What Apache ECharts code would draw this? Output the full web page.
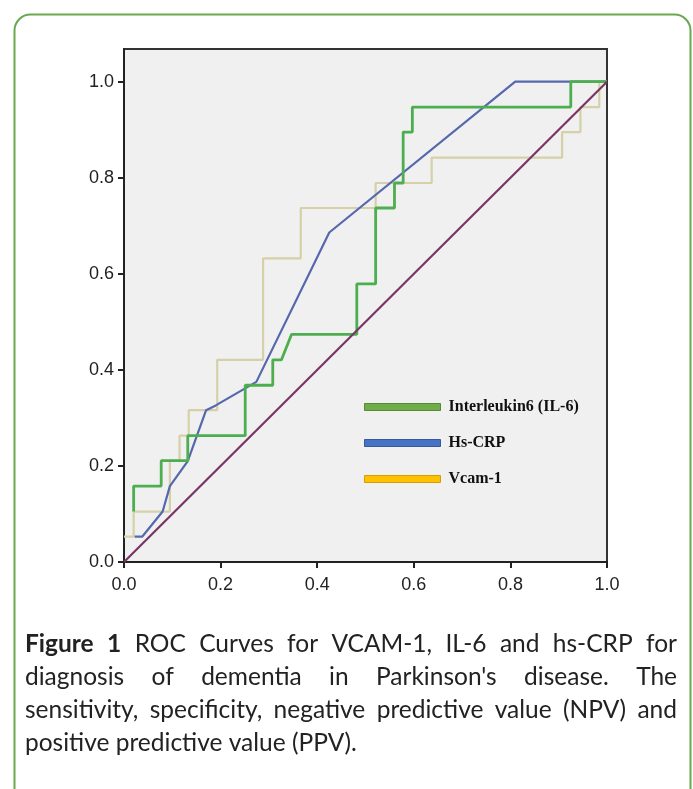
<!DOCTYPE html>
<html>
<head>
<meta charset="utf-8">
<script src="https://cdn.jsdelivr.net/npm/echarts@6/dist/echarts.min.js"></script>
<style>
html,body{margin:0;padding:0;background:#fff;}
#chart{width:693px;height:789px;}
</style>
</head>
<body>
<div id="chart"></div>
<script>
// ---- data ----
const xTicks = [0, 0.2, 0.4, 0.6, 0.8, 1.0];
const yTicks = [0, 0.2, 0.4, 0.6, 0.8, 1.0];

const seriesNames = ['Interleukin6 (IL-6)', 'Hs-CRP', 'Vcam-1'];

// Interleukin6 (IL-6): 1 - specificity / sensitivity
const il6Fpr = [0.02,0.02,0.077,0.077,0.132,0.132,0.251,0.251,0.308,0.308,0.326,0.347,0.482,0.482,0.521,0.521,0.56,0.56,0.578,0.578,0.597,0.597,0.925,0.925,1.0];
const il6Tpr = [0.105,0.158,0.158,0.211,0.211,0.263,0.263,0.368,0.368,0.421,0.421,0.474,0.474,0.579,0.579,0.737,0.737,0.789,0.789,0.895,0.895,0.947,0.947,1.0,1.0];

// Hs-CRP
const crpFpr = [0.022,0.038,0.08,0.095,0.132,0.17,0.19,0.274,0.425,0.81,1.0];
const crpTpr = [0.053,0.053,0.105,0.158,0.21,0.316,0.326,0.375,0.686,1.0,1.0];

// Vcam-1
const vcamFpr = [0,0.02,0.02,0.095,0.095,0.115,0.115,0.134,0.134,0.193,0.193,0.288,0.288,0.366,0.366,0.521,0.521,0.637,0.637,0.907,0.907,0.945,0.945,0.984,0.984,1.0];
const vcamTpr = [0.053,0.053,0.105,0.105,0.211,0.211,0.263,0.263,0.316,0.316,0.421,0.421,0.632,0.632,0.737,0.737,0.789,0.789,0.842,0.842,0.895,0.895,0.947,0.947,1.0,1.0];

// reference diagonal
const refFpr = [0, 1];
const refTpr = [0, 1];

const captionLines = [
  [{t:'Figure', b:true},{t:'1', b:true},{t:'ROC'},{t:'Curves'},{t:'for'},{t:'VCAM-1,'},{t:'IL-6'},{t:'and'},{t:'hs-CRP'},{t:'for'}],
  'diagnosis of dementia in Parkinson\'s disease. The',
  'sensitivity, specificity, negative predictive value (NPV) and',
  'positive predictive value (PPV).'
];

// ---- build ----
const zip = (xs, ys) => xs.map((x, i) => [x, ys[i]]);

const chart = echarts.init(document.getElementById('chart'), null, {renderer: 'canvas'});

// caption layout (justified text)
const capFamily = 'Lato';
const ctx = document.createElement('canvas').getContext('2d');
function w(text, size, bold) {
  ctx.font = (bold ? 'bold ' : '') + size + 'px ' + capFamily;
  return ctx.measureText(text).width;
}
const lastLine = captionLines[3];
const capSize = Math.round(20 * 332 / w(lastLine, 20, false) * 10) / 10;
const capLeft = 25, capRight = 677, capTop = 647, capStep = 33;
const capGraphics = [];
captionLines.forEach((line, li) => {
  const words = typeof line === 'string' ? line.split(' ').map(t => ({t})) : line;
  const y = capTop + li * capStep;
  const justify = li < captionLines.length - 1;
  const widths = words.map(o => w(o.t, capSize, o.b));
  const total = widths.reduce((a, b) => a + b, 0);
  const gap = justify ? (capRight - capLeft - total) / (words.length - 1) : w(' ', capSize, false);
  let x = capLeft;
  words.forEach((o, i) => {
    capGraphics.push({
      type: 'text', left: x, top: y - capSize * 0.62,
      style: {text: o.t, font: (o.b ? 'bold ' : '') + capSize + 'px ' + capFamily, fill: '#222'}
    });
    x += widths[i] + gap;
  });
});

const lineColors = ['#4cae4f', '#5668ad', '#d6d0a8'];
const legendColors = [['#70ad47', '#548a34'], ['#4472c4', '#35599c'], ['#ffc000', '#d49f00']];

const option = {
  animation: false,
  backgroundColor: '#ffffff',
  grid: {
    left: 124, right: 86, top: 49, bottom: 227,
    show: true, backgroundColor: '#f0f0f0', borderColor: '#333', borderWidth: 2
  },
  xAxis: {
    type: 'value', min: 0, max: 1, interval: 0.2,
    axisLine: {show: true, onZero: false, lineStyle: {color: '#222', width: 2}},
    axisTick: {show: true, length: 6, lineStyle: {color: '#222', width: 2}},
    axisLabel: {
      fontFamily: 'Liberation Sans', fontSize: 18, color: '#222', margin: 14,
      customValues: xTicks, formatter: v => v.toFixed(1)
    },
    splitLine: {show: false}
  },
  yAxis: {
    type: 'value', min: 0, max: 1.068,
    axisLine: {show: true, onZero: false, lineStyle: {color: '#222', width: 2}},
    axisTick: {show: true, length: 6, lineStyle: {color: '#222', width: 2}, customValues: yTicks},
    axisLabel: {
      fontFamily: 'Liberation Sans', fontSize: 18, color: '#222', margin: 10,
      customValues: yTicks, formatter: v => v.toFixed(1)
    },
    splitLine: {show: false}
  },
  legend: {
    orient: 'vertical', left: 364, top: 398, padding: 0,
    itemWidth: 76, itemHeight: 7, itemGap: 18,
    selectedMode: false,
    textStyle: {fontFamily: 'Liberation Serif', fontWeight: 'bold', fontSize: 16, color: '#111', lineHeight: 18, padding: [0,0,0,3]},
    data: seriesNames.map((n, i) => ({
      name: n, icon: 'rect',
      itemStyle: {color: legendColors[i][0], borderColor: legendColors[i][1], borderWidth: 1}
    }))
  },
  graphic: [
    {
      type: 'rect', left: 12, top: 12, z: -10, silent: true,
      shape: {width: 676, height: 820, r: 16},
      style: {fill: 'none', stroke: '#6aa84f', lineWidth: 2}
    },
    ...capGraphics
  ],
  series: [
    {
      name: seriesNames[2], type: 'line', data: zip(vcamFpr, vcamTpr),
      showSymbol: false, symbol: 'none', lineStyle: {color: lineColors[2], width: 2.2}, itemStyle: {color: lineColors[2]}, z: 2
    },
    {
      name: seriesNames[1], type: 'line', data: zip(crpFpr, crpTpr),
      showSymbol: false, symbol: 'none', lineStyle: {color: lineColors[1], width: 2.2}, itemStyle: {color: lineColors[1]}, z: 3
    },
    {
      name: seriesNames[0], type: 'line', data: zip(il6Fpr, il6Tpr),
      showSymbol: false, symbol: 'none', lineStyle: {color: lineColors[0], width: 2.8}, itemStyle: {color: lineColors[0]}, z: 4
    },
    {
      name: 'Reference', type: 'line', data: zip(refFpr, refTpr),
      showSymbol: false, symbol: 'none', lineStyle: {color: '#7b3565', width: 2.2}, z: 5
    }
  ]
};
chart.setOption(option);
</script>
</body>
</html>
